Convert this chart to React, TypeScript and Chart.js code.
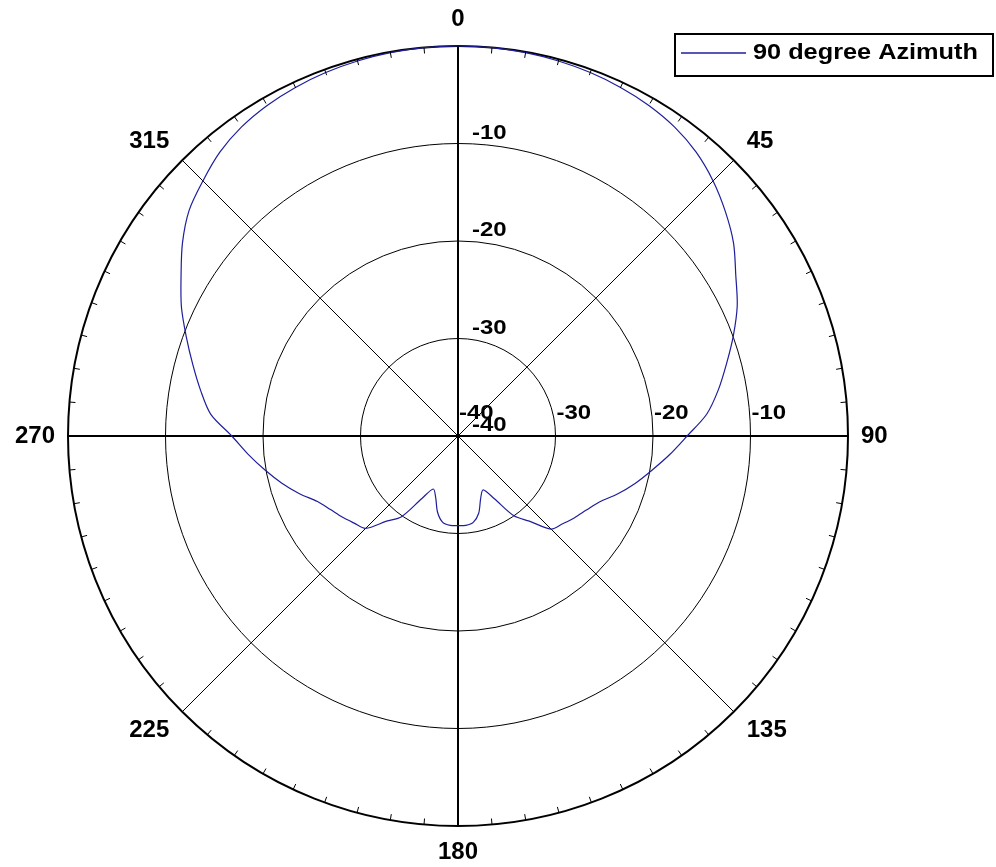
import React, { useEffect, useRef } from 'react';
import { Chart, registerables } from 'chart.js';

Chart.register(...registerables);

// Angle categories (degrees, clockwise from top), one every 5 degrees
const angleLabels = [
  '0', '5', '10', '15', '20', '25', '30', '35', '40', '45', '50', '55',
  '60', '65', '70', '75', '80', '85', '90', '95', '100', '105', '110', '115',
  '120', '125', '130', '135', '140', '145', '150', '155', '160', '165', '170', '175',
  '180', '185', '190', '195', '200', '205', '210', '215', '220', '225', '230', '235',
  '240', '245', '250', '255', '260', '265', '270', '275', '280', '285', '290', '295',
  '300', '305', '310', '315', '320', '325', '330', '335', '340', '345', '350', '355',
];

// Relative gain (dB)
const gainDb = [
  0, -0.02, -0.08, -0.18, -0.33, -0.55, -0.85, -1.3, -2.0, -3.0, -4.2, -5.5,
  -7.1, -8.4, -9.95, -11.5, -12.9, -14.4, -16.5, -18.2, -19.8, -21.2, -22.6, -24.0,
  -24.8, -25.4, -26.0, -26.5, -28.6, -30.0, -32.6, -33.9, -33.2, -31.8, -31.0, -30.8,
  -30.8, -30.8, -31.0, -31.9, -33.3, -34.0, -32.6, -29.9, -28.6, -26.6, -26.1, -25.5,
  -24.9, -24.1, -22.7, -21.3, -19.9, -18.4, -16.8, -14.55, -13.2, -11.85, -10.35, -8.7,
  -7.2, -5.5, -4.0, -3.0, -2.0, -1.3, -0.85, -0.55, -0.33, -0.18, -0.08, -0.02,
];

const seriesLabel = '90 degree Azimuth';

// Radial axis range (dB)
const radialMin = -40;
const radialMax = 0;
const radialStep = 10;

const LINE_COLOR = '#1e1e9c';

function wideText(ctx: CanvasRenderingContext2D, text: string, x: number, y: number, sx: number) {
  ctx.save();
  ctx.translate(x, y);
  ctx.scale(sx, 1);
  ctx.fillText(text, 0, 0);
  ctx.restore();
}

const decorPlugin = {
  id: 'polarDecor',
  afterDraw(chart: any) {
    const scale = chart.scales.r;
    const ctx = chart.ctx as CanvasRenderingContext2D;
    const R = scale.getDistanceFromCenterForValue(scale.max);
    const cx = scale.xCenter;
    const cy = scale.yCenter;
    const labels = chart.data.labels as string[];
    const n = labels.length;
    ctx.save();

    // small ticks on outer circle
    ctx.strokeStyle = '#000';
    ctx.lineWidth = 1;
    for (let i = 0; i < n; i++) {
      const p1 = scale.getPointPosition(i, R);
      const p2 = scale.getPointPosition(i, R - 6);
      ctx.beginPath();
      ctx.moveTo(p1.x, p1.y);
      ctx.lineTo(p2.x, p2.y);
      ctx.stroke();
    }

    // angle labels every 45 degrees
    ctx.fillStyle = '#000';
    ctx.font = 'bold 24px "Liberation Sans", Arial, sans-serif';
    ctx.textBaseline = 'middle';
    for (let i = 0; i < n; i += 9) {
      const a = scale.getIndexAngle(i);
      const s = Math.sin(a);
      const c = Math.cos(a);
      const p = scale.getPointPosition(i, R);
      const sx = Math.abs(s) < 0.1 ? 0 : Math.sign(s);
      ctx.textAlign = sx > 0 ? 'left' : sx < 0 ? 'right' : 'center';
      ctx.fillText(String(labels[i]), p.x + sx * 13, p.y - c * 26.5);
    }

    // ring value labels (vertical and horizontal)
    ctx.font = 'bold 20px "Liberation Sans", Arial, sans-serif';
    ctx.textAlign = 'left';
    ctx.textBaseline = 'alphabetic';
    scale.ticks.forEach((t: any) => {
      if (t.value >= scale.max) return;
      const d = scale.getDistanceFromCenterForValue(t.value);
      wideText(ctx, String(t.label), cx + 14, cy - d - 5, 1.2);
      wideText(ctx, String(t.label), cx + d + 1, cy - 17, 1.2);
    });

    // legend box
    const lx = 675, ly = 34, lw = 318, lh = 42;
    const my = ly + 19;
    ctx.fillStyle = '#fff';
    ctx.fillRect(lx, ly, lw, lh);
    ctx.strokeStyle = '#000';
    ctx.lineWidth = 2;
    ctx.strokeRect(lx, ly, lw, lh);
    const ds = chart.data.datasets[0];
    ctx.strokeStyle = ds.borderColor;
    ctx.lineWidth = 1.3;
    ctx.beginPath();
    ctx.moveTo(681, my);
    ctx.lineTo(746, my);
    ctx.stroke();
    ctx.fillStyle = '#000';
    ctx.font = 'bold 22px "Liberation Sans", Arial, sans-serif';
    ctx.textBaseline = 'middle';
    ctx.textAlign = 'left';
    wideText(ctx, ds.label, 753, my, 1.15);

    ctx.restore();
  },
};

export default function App() {
  const canvasRef = useRef<HTMLCanvasElement | null>(null);

  useEffect(() => {
    if (!canvasRef.current) return;
    const chart = new Chart(canvasRef.current, {
      type: 'radar',
      data: {
        labels: angleLabels,
        datasets: [
          {
            label: seriesLabel,
            data: gainDb,
            borderColor: LINE_COLOR,
            backgroundColor: 'rgba(0,0,0,0)',
            borderWidth: 1.2,
            pointRadius: 0,
            pointHoverRadius: 0,
            fill: false,
            tension: 0.3,
          },
        ],
      },
      options: {
        animation: false,
        responsive: true,
        maintainAspectRatio: false,
        layout: { padding: { left: 68, right: 147, top: 46, bottom: 41 } },
        plugins: {
          legend: { display: false },
          tooltip: { enabled: false },
        },
        scales: {
          r: {
            min: radialMin,
            max: radialMax,
            ticks: { stepSize: radialStep, display: false },
            pointLabels: { display: false },
            grid: {
              circular: true,
              color: '#000',
              lineWidth: (c: any) => (c.tick && c.tick.value === radialMax ? 2 : 1),
            },
            angleLines: {
              display: true,
              color: '#000',
              lineWidth: (c: any) => (c.index % 18 === 0 ? 2 : c.index % 9 === 0 ? 1 : 0),
            },
          },
        },
      } as any,
      plugins: [decorPlugin],
    });
    return () => chart.destroy();
  }, []);

  return (
    <div style={{ position: 'fixed', left: 0, top: 0, width: 996, height: 867, background: '#fff' }}>
      <canvas ref={canvasRef} />
    </div>
  );
}
